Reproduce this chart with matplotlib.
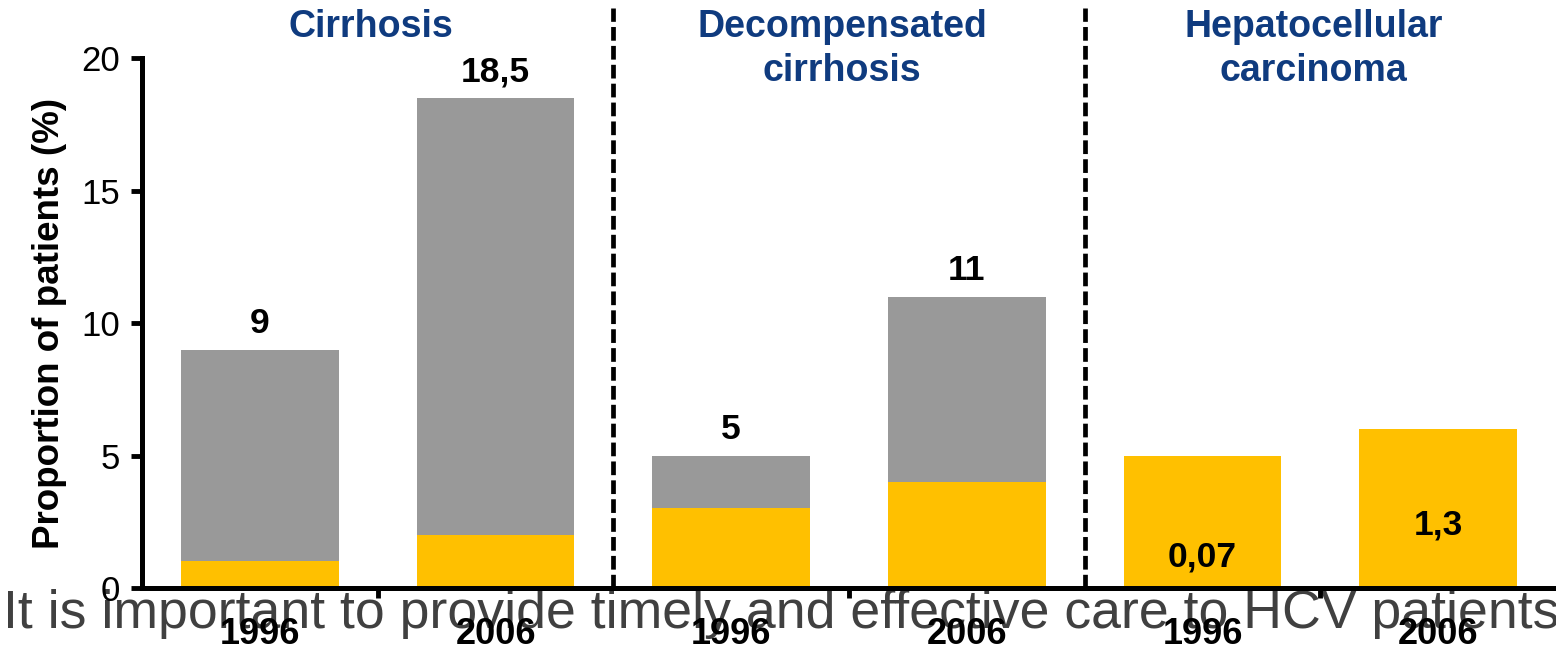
import matplotlib
matplotlib.use('Agg')
import matplotlib.pyplot as plt
import numpy as np

plt.rcParams['font.family'] = ['Liberation Sans', 'DejaVu Sans']

# data
groups = ['Cirrhosis', 'Decompensated\ncirrhosis', 'Hepatocellular\ncarcinoma']
years = ['1996', '2006', '1996', '2006', '1996', '2006']
yellow_part = [1, 2, 3, 4, 5, 6]
bar_total = [9, 18.5, 5, 11, 5, 6]
value_labels = ['9', '18,5', '5', '11', '0,07', '1,3']
label_inside = [False, False, False, False, True, True]
overlay = 'It is important to provide timely and effective care to HCV patients'

grey = '#999999'
yellow = '#FFC000'
blue = '#0f3b7f'

fig = plt.figure(figsize=(15.56, 6.51), dpi=100)
ax = fig.add_axes([0.0913, 0.0968, 0.9087, 0.814])
ax.patch.set_visible(False)

x = np.arange(len(years))
grey_part = [t - y for t, y in zip(bar_total, yellow_part)]
ax.bar(x, yellow_part, width=0.67, color=yellow, zorder=2)
ax.bar(x, grey_part, bottom=yellow_part, width=0.67, color=grey, zorder=2)

for xi, tot, lab, inside in zip(x, bar_total, value_labels, label_inside):
    if inside:
        ypos = 1.17 if lab == '0,07' else 2.38
        ax.text(xi, ypos, lab, ha='center', va='center', fontsize=25.5, fontweight='bold')
    else:
        ax.text(xi, tot + 0.35, lab, ha='center', va='bottom', fontsize=25.5, fontweight='bold')

ax.set_xlim(-0.5, 5.5)
ax.set_ylim(0, 20)
ax.set_yticks([0, 5, 10, 15, 20])
ax.set_xticks(x)
ax.set_xticklabels(years, fontsize=26, fontweight='bold')
ax.set_xticks([0.5, 2.5, 4.5], minor=True)
ax.tick_params(axis='x', which='major', length=0, pad=21)
ax.tick_params(axis='x', which='minor', length=7, width=3.5, direction='out')
ax.tick_params(axis='y', length=8, width=3.5, labelsize=25, pad=8)

for s in ['top', 'right']:
    ax.spines[s].set_visible(False)
ax.spines['left'].set_linewidth(3.6)
ax.spines['bottom'].set_linewidth(3.6)
ax.spines['left'].set_zorder(3)
ax.spines['bottom'].set_zorder(3)

ax.set_ylabel('Proportion of patients (%)', fontsize=26.5, fontweight='bold', labelpad=10)

# dashed separators between groups
for xs in [1.5, 3.5]:
    ax.plot([xs, xs], [0, 21.9], color='black', lw=3.4, ls=(0, (2.9, 1.1)), clip_on=False, zorder=3)

# group titles
for i, g in enumerate(groups):
    ax.text(2 * i + 0.47, 21.85, g, ha='center', va='top', fontsize=27, fontweight='bold',
            color=blue, linespacing=1.3)

# overlay caption drawn beneath the axes content
fig.text(0.002, 0.036, overlay, ha='left', va='baseline', fontsize=38.6, color='#404040', zorder=-1)

fig.savefig('out.png', dpi=100)
